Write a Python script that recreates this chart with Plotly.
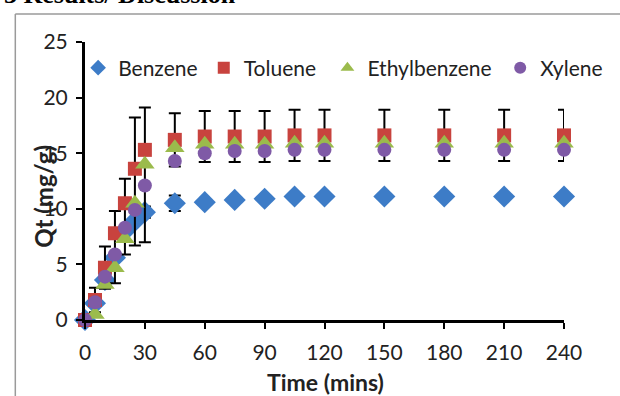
import plotly.graph_objects as go

time = [0, 5, 10, 15, 20, 25, 30, 45, 60, 75, 90, 105, 120, 150, 180, 210, 240]
benzene = [0, 1.5, 3.6, 5.6, 8.0, 8.9, 9.7, 10.5, 10.6, 10.8, 10.9, 11.1, 11.1, 11.1, 11.1, 11.1, 11.1]
toluene = [0, 1.8, 4.7, 7.8, 10.5, 13.6, 15.3, 16.2, 16.5, 16.5, 16.5, 16.6, 16.6, 16.6, 16.6, 16.6, 16.6]
ethylbenzene = [-0.3, 0.5, 3.2, 4.7, 7.3, 10.5, 14.0, 15.5, 15.8, 15.8, 15.8, 15.9, 15.9, 15.9, 15.9, 15.9, 15.9]
xylene = [0, 1.6, 3.9, 5.9, 8.3, 9.9, 12.1, 14.3, 15.0, 15.2, 15.2, 15.3, 15.3, 15.3, 15.3, 15.3, 15.3]
tol_err_plus = [0, 1.1, 1.9, 2.0, 2.2, 4.6, 3.8, 2.4, 2.3, 2.3, 2.3, 2.3, 2.3, 2.3, 2.3, 2.3, 2.3]
tol_err_minus = [0, 1.1, 1.9, 4.5, 4.6, 6.9, 8.3, 2.4, 2.3, 2.3, 2.3, 2.3, 2.3, 2.3, 2.3, 2.3, 2.3]
ben_err = [0, 0, 0, 0, 0, 0, 0.5, 0.7, 0, 0, 0, 0, 0, 0, 0, 0, 0]
x_ticks = [0, 30, 60, 90, 120, 150, 180, 210, 240]
y_ticks = [0, 5, 10, 15, 20, 25]
names = ["Benzene", "Toluene", "Ethylbenzene", "Xylene"]
colors = ["#3D7CC7", "#C8433E", "#9BBB4C", "#7F5AA6"]
symbols = ["diamond", "square", "triangle-up", "circle"]

FONT = "Lato, Open Sans, sans-serif"
W, H = 620, 396
L, R, T, B = 85, 47, 42, 76
pw, ph = W - L - R, H - T - B
def px(x): return (x - L) / pw
def py(y): return (H - B - y) / ph

fig = go.Figure()
fig.add_trace(go.Scatter(x=time, y=benzene, mode="markers", name=names[0], legend="legend",
    marker=dict(symbol=symbols[0], size=17, color=colors[0]), cliponaxis=False,
    error_y=dict(type="data", array=ben_err, color="black", thickness=2, width=6)))
fig.add_trace(go.Scatter(x=time, y=toluene, mode="markers", name=names[1], legend="legend2",
    marker=dict(symbol=symbols[1], size=14, color=colors[1]), cliponaxis=False,
    error_y=dict(type="data", symmetric=False, array=tol_err_plus, arrayminus=tol_err_minus,
                 color="black", thickness=2, width=6)))
fig.add_trace(go.Scatter(x=time, y=ethylbenzene, mode="markers", name=names[2], legend="legend3",
    marker=dict(symbol=symbols[2], size=17, color=colors[2]), cliponaxis=False))
fig.add_trace(go.Scatter(x=time, y=xylene, mode="markers", name=names[3], legend="legend4",
    marker=dict(symbol=symbols[3], size=14, color=colors[3]), cliponaxis=False))

leg_centers = [98, 226, 352, 528]
legends = {}
for i, cx in enumerate(leg_centers):
    key = "legend" if i == 0 else f"legend{i+1}"
    legends[key] = dict(x=px(cx - 20), y=py(68), xanchor="left", yanchor="middle",
                        font=dict(size=21, family=FONT, color="#222"),
                        bgcolor="rgba(0,0,0,0)", itemsizing="constant")

fig.update_layout(
    width=W, height=H, margin=dict(l=L, r=R, t=T, b=B),
    paper_bgcolor="white", plot_bgcolor="white",
    font=dict(family=FONT, size=21, color="#222"),
    showlegend=True,
    **legends,
    xaxis=dict(range=[0, 240], tickvals=x_ticks, showgrid=False, zeroline=False,
               showline=True, linecolor="black", linewidth=3, ticks="outside",
               ticklen=6, tickwidth=2, tickcolor="black", tickfont=dict(size=21),
               ticklabelstandoff=6),
    yaxis=dict(range=[0, 25], tickvals=y_ticks, showgrid=False, zeroline=False,
               showline=True, linecolor="black", linewidth=3, ticks="outside",
               ticklen=6, tickwidth=2, tickcolor="black", tickfont=dict(size=21),
               ticklabelstandoff=4),
    annotations=[
        dict(text="<b>Time (mins)</b>", xref="paper", yref="paper", x=px(330), y=py(382),
             xanchor="center", yanchor="middle",
             showarrow=False, font=dict(size=23, family=FONT, color="#222")),
        dict(text="<b>Qt (mg/g)</b>", xref="paper", yref="paper", x=px(42), y=py(196),
             xanchor="center", yanchor="middle",
             textangle=-90, showarrow=False, font=dict(size=24, family=FONT, color="#222")),
        dict(text="<b>3 Results/ Discussion</b>", xref="paper", yref="paper", x=px(241), y=py(11),
             xanchor="right", yanchor="bottom", showarrow=False,
             font=dict(size=26, family="Liberation Serif, serif", color="black")),
    ],
    shapes=[
        dict(type="line", xref="paper", yref="paper", x0=px(14), x1=px(14), y0=py(14), y1=py(420),
             line=dict(color="#9a9a9a", width=1.5)),
        dict(type="line", xref="paper", yref="paper", x0=px(14), x1=px(640), y0=py(14), y1=py(14),
             line=dict(color="#9a9a9a", width=1.5)),
    ],
)
fig.write_html("out.html")
